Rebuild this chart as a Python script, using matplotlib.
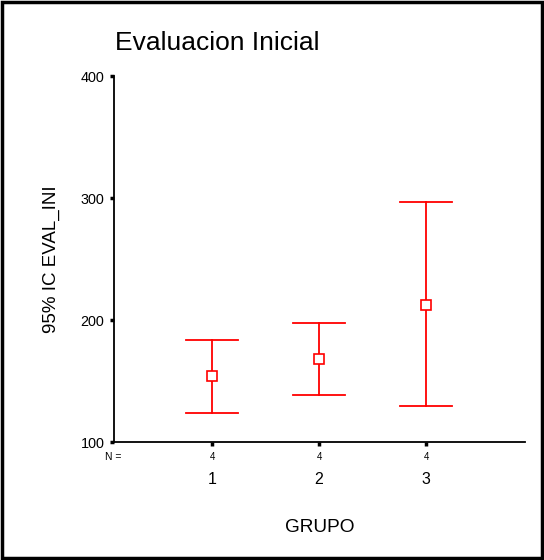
import matplotlib
matplotlib.use("Agg")
import matplotlib.pyplot as plt
from matplotlib.patches import Rectangle
import matplotlib.transforms as mtrans

plt.rcParams['font.family'] = ['Liberation Sans', 'DejaVu Sans']

groups = ["1", "2", "3"]
means = [154.2, 168.2, 212.6]
lower = [123.8, 138.9, 129.6]
upper = [183.2, 197.5, 296.4]
counts = [4, 4, 4]
yticks = [100, 200, 300, 400]

fig = plt.figure(figsize=(5.44, 5.60), dpi=100)
ax = fig.add_axes([114/544, 1-442/560, (525-114)/544, (442-76)/560])

xs = list(range(1, len(groups)+1))
red = "#ff0000"
for x, m, lo, hi in zip(xs, means, lower, upper):
    ax.plot([x, x], [lo, hi], color=red, lw=1.3)
    ax.plot([x-0.245, x+0.245], [lo, lo], color=red, lw=1.3)
    ax.plot([x-0.245, x+0.245], [hi, hi], color=red, lw=1.3)
ax.plot(xs, means, linestyle='none', marker='s', markersize=7,
        markerfacecolor='white', markeredgecolor=red, markeredgewidth=1.2)

ax.set_xlim(0.084, 3.925)
ax.set_ylim(100, 400)
ax.set_yticks(yticks)
ax.set_yticklabels([str(v) for v in yticks], fontsize=10.4)
ax.set_xticks(xs)
ax.set_xticklabels([])
ax.tick_params(axis='both', direction='out', length=3, width=2.5, color='black')
ax.tick_params(axis='y', pad=4)
for s in ['top', 'right']:
    ax.spines[s].set_visible(False)
for s in ['left', 'bottom']:
    ax.spines[s].set_linewidth(1.3)

trans = mtrans.blended_transform_factory(ax.transData, ax.transAxes)
for x, n, g in zip(xs, counts, groups):
    ax.text(x, -15/366, str(n), transform=trans, ha='center', va='center', fontsize=7)
    ax.text(x, -38/366, g, transform=trans, ha='center', va='center', fontsize=11.5)
fig.text(113.5/544, 1-457/560, "N =", ha='center', va='center', fontsize=7.5)

ax.set_ylabel("95% IC EVAL_INI", fontsize=13.5, labelpad=15)
fig.text(320/544, 1-528/560, "GRUPO", ha='center', va='center', fontsize=13.7)
fig.text(115/544, 1-43/560, "Evaluacion Inicial", ha='left', va='center', fontsize=19)

fig.patches.append(Rectangle((0.003, 0.003), 0.994, 0.993, transform=fig.transFigure,
                             fill=False, edgecolor='black', linewidth=2.5))

fig.savefig("out.png", dpi=100)
